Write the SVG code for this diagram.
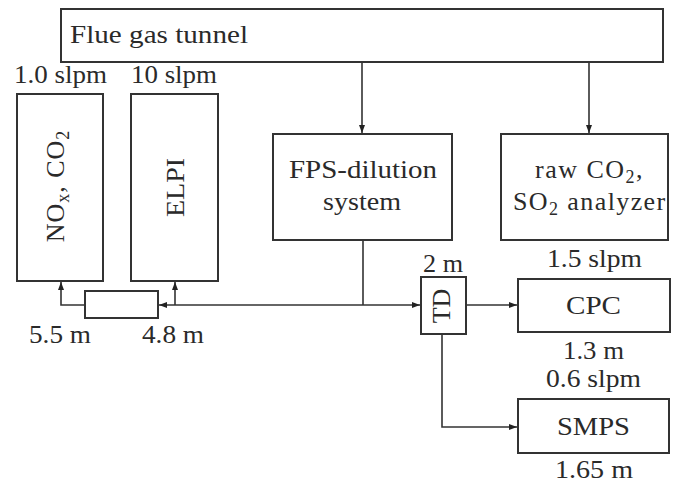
<svg xmlns="http://www.w3.org/2000/svg" width="673" height="489" viewBox="0 0 673 489" font-family="'Liberation Serif', 'Times New Roman', 'DejaVu Serif', serif">
<defs>
<style>
.box{fill:#fff;stroke:#333;stroke-width:2}
.ln{fill:none;stroke:#333;stroke-width:1.6}
text{font-family:'Liberation Serif','Times New Roman','DejaVu Serif',serif;font-size:26px;fill:#2a2a2a}
.m{text-anchor:middle}
.sub{font-size:18px}
</style>
<marker id="ah" viewBox="0 0 8 6" refX="8" refY="3" markerWidth="8" markerHeight="6" markerUnits="userSpaceOnUse" orient="auto">
<path d="M0,0 L8,3 L0,6 Z" fill="#222"/>
</marker>
</defs>
<rect width="673" height="489" fill="#fff"/>
<g id="connectors">
<line class="ln" x1="362" y1="62" x2="362" y2="133" marker-end="url(#ah)"/>
<line class="ln" x1="589" y1="62" x2="589" y2="133" marker-end="url(#ah)"/>
<polyline class="ln" points="363,240 363,305"/>
<line class="ln" x1="363" y1="305" x2="420" y2="305" marker-end="url(#ah)"/>
<line class="ln" x1="363" y1="305" x2="159" y2="305" marker-end="url(#ah)"/>
<line class="ln" x1="175" y1="305" x2="175" y2="282" marker-end="url(#ah)"/>
<polyline class="ln" points="85,305 61,305 61,282" marker-end="url(#ah)"/>
<line class="ln" x1="466" y1="305" x2="517" y2="305" marker-end="url(#ah)"/>
<polyline class="ln" points="442,334 442,427 517,427" marker-end="url(#ah)"/>
</g>
<g id="tunnel">
<rect class="box" x="61" y="9" width="602" height="53"/>
<text x="70" y="43" textLength="178" lengthAdjust="spacingAndGlyphs">Flue gas tunnel</text>
</g>
<g id="nox">
<rect class="box" x="17" y="94" width="86" height="187"/>
<text x="14" y="83" textLength="93" lengthAdjust="spacingAndGlyphs">1.0 slpm</text>
<text class="m" transform="translate(64,186) rotate(-90)" letter-spacing="1">NO<tspan class="sub" dy="5">x</tspan><tspan dy="-5">, CO</tspan><tspan class="sub" dy="5">2</tspan></text>
</g>
<g id="elpi">
<rect class="box" x="131" y="94" width="87" height="187"/>
<text x="131" y="83" textLength="86" lengthAdjust="spacingAndGlyphs">10 slpm</text>
<text class="m" transform="translate(184,187.5) rotate(-90)" textLength="59" lengthAdjust="spacingAndGlyphs">ELPI</text>
</g>
<g id="filter">
<rect class="box" x="85" y="291" width="73" height="27"/>
<text x="29" y="343" textLength="62" lengthAdjust="spacingAndGlyphs">5.5 m</text>
<text x="142" y="343" textLength="62" lengthAdjust="spacingAndGlyphs">4.8 m</text>
</g>
<g id="fps">
<rect class="box" x="273" y="134" width="179" height="106"/>
<text x="289" y="178" textLength="148" lengthAdjust="spacingAndGlyphs">FPS-dilution</text>
<text x="323" y="210" textLength="78" lengthAdjust="spacingAndGlyphs">system</text>
</g>
<g id="raw">
<rect class="box" x="501" y="134" width="167" height="106"/>
<text x="535" y="178" letter-spacing="1.5">raw CO<tspan class="sub" dy="5">2</tspan><tspan dy="-5">,</tspan></text>
<text x="513" y="210" letter-spacing="1.4">SO<tspan class="sub" dy="5">2</tspan><tspan dy="-5"> analyzer</tspan></text>
<text x="547" y="267" textLength="95" lengthAdjust="spacingAndGlyphs">1.5 slpm</text>
</g>
<g id="td">
<rect class="box" x="421" y="277" width="45" height="57"/>
<text x="423" y="272" textLength="40" lengthAdjust="spacingAndGlyphs">2 m</text>
<text class="m" transform="translate(450,306) rotate(-90)">TD</text>
</g>
<g id="cpc">
<rect class="box" x="518" y="279" width="152" height="53"/>
<text x="566" y="314" textLength="55" lengthAdjust="spacingAndGlyphs">CPC</text>
<text x="563" y="359" textLength="61" lengthAdjust="spacingAndGlyphs">1.3 m</text>
<text x="546" y="387" textLength="95" lengthAdjust="spacingAndGlyphs">0.6 slpm</text>
</g>
<g id="smps">
<rect class="box" x="518" y="399" width="151" height="54"/>
<text x="557" y="435" textLength="73" lengthAdjust="spacingAndGlyphs">SMPS</text>
<text x="555" y="478" textLength="78" lengthAdjust="spacingAndGlyphs">1.65 m</text>
</g>
</svg>
